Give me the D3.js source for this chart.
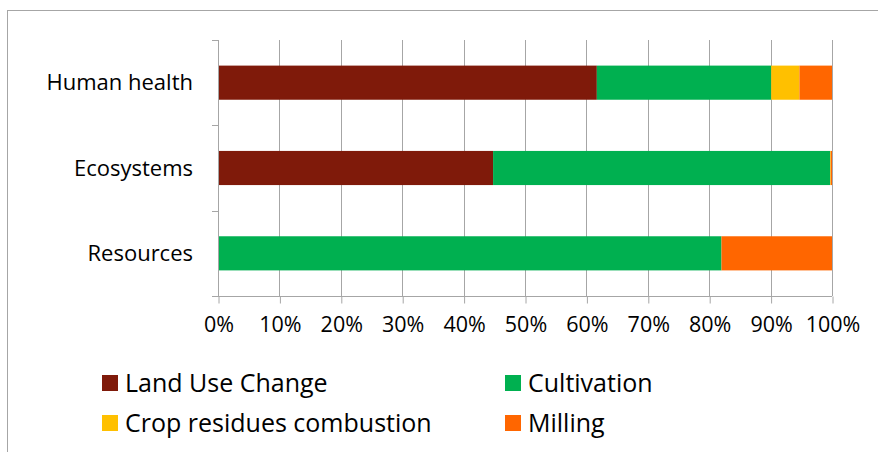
<!DOCTYPE html>
<html><head><meta charset="utf-8">
<script src="https://cdn.jsdelivr.net/npm/d3@7"></script>
<style>html,body{margin:0;padding:0;background:#fff;}svg{display:block;font-family:"Open Sans","Noto Sans",sans-serif;}</style>
</head><body>
<svg id="chart" width="878" height="452"></svg>
<script>
const categories = ["Human health", "Ecosystems", "Resources"];
const seriesNames = ["Land Use Change", "Cultivation", "Crop residues combustion", "Milling"];
const landUseChange = [61.7, 44.8, 0];
const cultivation = [28.4, 54.9, 82.0];
const cropResidues = [4.6, 0.1, 0];
const milling = [5.3, 0.2, 18.0];
const xTicks = [0, 10, 20, 30, 40, 50, 60, 70, 80, 90, 100];
const colors = ["#7f1a0a", "#00b050", "#ffc000", "#ff6600"];

const seriesValues = [landUseChange, cultivation, cropResidues, milling];
const rows = categories.map((c, i) => {
  const r = {category: c};
  seriesNames.forEach((s, j) => r[s] = seriesValues[j][i]);
  return r;
});

const svg = d3.select("#chart");
const pLeft = 218, pRight = 832, pTop = 40, pBottom = 296;
const x = d3.scaleLinear().domain([0, 100]).range([pLeft, pRight]);
const y = d3.scaleBand().domain(categories).range([pTop, pBottom]).paddingInner(0.6).paddingOuter(0.3);
const grid = "#a6a6a6";

// outer border
svg.append("rect").attr("x", 7.5).attr("y", 10.5).attr("width", 900).attr("height", 500)
  .attr("fill", "none").attr("stroke", "#a6a6a6").attr("stroke-width", 1);

// vertical gridlines
svg.append("g").selectAll("line").data(xTicks.slice(1)).join("line")
  .attr("x1", d => Math.round(x(d)) + 0.5).attr("x2", d => Math.round(x(d)) + 0.5)
  .attr("y1", pTop).attr("y2", pBottom)
  .attr("stroke", grid).attr("stroke-width", 1);

// bars
const stack = d3.stack().keys(seriesNames)(rows);
svg.append("g").selectAll("g").data(stack).join("g")
  .attr("fill", (d, i) => colors[i])
  .selectAll("rect").data(d => d).join("rect")
  .attr("x", d => x(d[0])).attr("width", d => x(d[1]) - x(d[0]))
  .attr("y", d => y(d.data.category)).attr("height", y.bandwidth());

// x axis
const xAxis = d3.axisBottom(x).tickValues(xTicks).tickFormat(d => d + "%").tickSize(7).tickPadding(13);
const gx = svg.append("g").attr("transform", `translate(0.5,${pBottom + 0.5})`).call(xAxis);
gx.select(".domain").attr("stroke", grid).attr("d", `M${pLeft - 0.5},0H${pRight - 0.5}`);
gx.selectAll(".tick line").attr("stroke", grid);
gx.selectAll(".tick text").attr("fill", "#000").attr("font-size", 21.5).attr("font-family", "Open Sans");

// y axis with Excel-style boundary ticks
const step = y.step();
const yBounds = categories.map(c => y(c) - step * y.paddingInner() / 2).concat([pBottom]);
svg.append("line").attr("x1", pLeft + 0.5).attr("x2", pLeft + 0.5).attr("y1", pTop).attr("y2", pBottom)
  .attr("stroke", grid);
svg.append("g").selectAll("line").data(yBounds).join("line")
  .attr("x1", pLeft - 6).attr("x2", pLeft + 0.5)
  .attr("y1", d => Math.round(d) + 0.5).attr("y2", d => Math.round(d) + 0.5)
  .attr("stroke", grid);
svg.append("g").selectAll("text").data(categories).join("text")
  .attr("x", 193).attr("y", d => y(d) + y.bandwidth() / 2)
  .attr("dy", "0.35em").attr("text-anchor", "end").attr("font-size", 22).attr("fill", "#000")
  .text(d => d);

// legend
const legendPos = [[102, 383], [505, 383], [102, 423], [505, 423]];
const lg = svg.append("g").selectAll("g").data(seriesNames).join("g")
  .attr("transform", (d, i) => `translate(${legendPos[i][0]},${legendPos[i][1]})`);
lg.append("rect").attr("x", 0).attr("y", -8).attr("width", 16).attr("height", 16)
  .attr("fill", (d, i) => colors[i]);
lg.append("text").attr("x", 23).attr("y", 0).attr("dy", "0.35em").attr("font-size", 25).attr("fill", "#000")
  .text(d => d);
</script>
</body></html>
